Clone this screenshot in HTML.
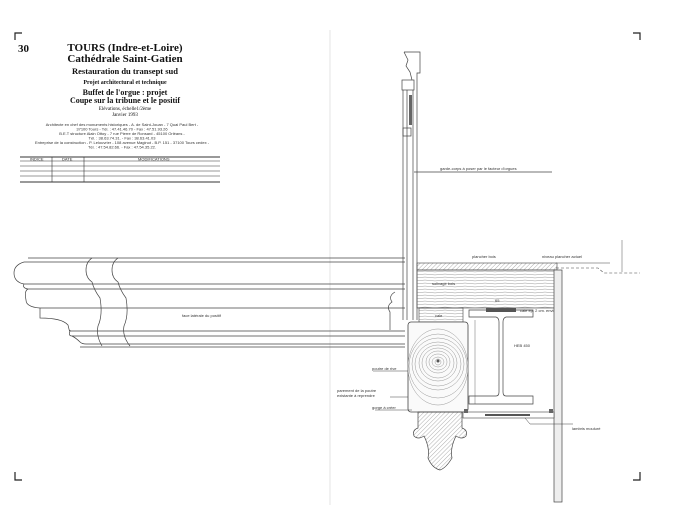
<!DOCTYPE html>
<html><head><meta charset="utf-8"><style>
html,body{margin:0;padding:0;background:#fff;}
svg{display:block;}
text{font-family:"Liberation Serif",serif;fill:#111;}
.s{font-family:"Liberation Sans",sans-serif;font-size:4px;fill:#333;}
</style></head><body>
<svg width="679" height="512" viewBox="0 0 679 512" xmlns="http://www.w3.org/2000/svg">
<defs>
<pattern id="h" width="3" height="3" patternUnits="userSpaceOnUse" patternTransform="rotate(45)"><line x1="0" y1="0" x2="0" y2="3" stroke="#777" stroke-width="0.6"/></pattern>
<pattern id="g" width="20" height="3" patternUnits="userSpaceOnUse"><path d="M0 1.5 Q5 0.6 10 1.5 T20 1.5" stroke="#999" stroke-width="0.5" fill="none"/></pattern>
</defs>
<rect width="679" height="512" fill="#fff"/>
<g stroke="#222" stroke-width="1.2" fill="none">
<path d="M15 40 V33 H22"/><path d="M633 33 H640 V40"/><path d="M15 472 V480 H22"/><path d="M640 472 V480 H633"/>
</g>
<line x1="330" y1="30" x2="330" y2="505" stroke="#ddd" stroke-width="0.8"/>
<text x="18" y="52" font-size="11" font-weight="bold">30</text>
<g text-anchor="middle" font-weight="bold">
<text x="125" y="51" font-size="11">TOURS (Indre-et-Loire)</text>
<text x="125" y="62" font-size="11">Cathédrale Saint-Gatien</text>
<text x="125" y="74" font-size="8.5">Restauration du transept sud</text>
<text x="125" y="84" font-size="6">Projet architectural et technique</text>
<text x="125" y="95" font-size="8">Buffet de l'orgue : projet</text>
<text x="125" y="103" font-size="8">Coupe sur la tribune et le positif</text>
<text x="125" y="110" font-size="5" font-weight="normal">Elévations, échelle1/2ème</text>
<text x="125" y="116" font-size="5" font-weight="normal">Janvier 1993</text>
</g>
<g class="s" text-anchor="middle" font-size="3.2">
<text x="122" y="126" class="s">Architecte en chef des monuments historiques - A. de Saint-Jouan - 7 Quai Paul Bert -</text>
<text x="122" y="130.5" class="s">37100 Tours - Tél. : 47.41.46.70 - Fax : 47.51.93.26</text>
<text x="122" y="135" class="s">B.E.T structure Alain Ottoy - 7 rue Pierre de Ronsard - 45100 Orléans -</text>
<text x="122" y="139.5" class="s">Tél. : 38.63.74.31. - Fax : 38.63.41.03</text>
<text x="122" y="144" class="s">Entreprise de la construction - P. Lelouvrier - 108 avenue Maginot - B.P. 151 - 37100 Tours cedex -</text>
<text x="122" y="148.5" class="s">Tél. : 47.54.82.66. - Fax : 47.54.35.22.</text>
</g>
<g stroke="#333" stroke-width="0.6">
<line x1="20" y1="157" x2="220" y2="157" stroke-width="1"/><line x1="20" y1="161" x2="220" y2="161"/>
<line x1="20" y1="166" x2="220" y2="166"/><line x1="20" y1="171" x2="220" y2="171"/>
<line x1="20" y1="176" x2="220" y2="176"/><line x1="20" y1="182" x2="220" y2="182" stroke-width="1"/>
<line x1="52" y1="157" x2="52" y2="182"/><line x1="84" y1="157" x2="84" y2="182"/>
</g>
<text x="30" y="160.3" class="s" font-size="3">INDICE</text><text x="62" y="160.3" class="s" font-size="3">DATE</text><text x="138" y="160.3" class="s" font-size="3">MODIFICATIONS</text>
<g stroke="#444" stroke-width="0.7" fill="none">
<path d="M28 258 H405"/><path d="M24 262 H405"/>
<path d="M24 262 Q14 265 14 273 Q14 282 24 284 H405"/>
<path d="M24 284 Q22 288 28 289 H405"/>
<path d="M28 289 Q24 291 26 300 Q26 307 40 308 H405"/>
<path d="M40 308 V318 Q62 318 68 325 Q70 334 70 330 V331 H405"/>
<path d="M70 331 Q68 336 72 336 H405"/>
<path d="M72 336 Q76 338 80 342 Q82 344 86 344 H405"/>
<path d="M80 347 H405"/>
<path d="M92 258 Q86 262 86 270 Q86 278 92 282 Q94 290 100 298 Q103 315 98 326 Q96 336 102 346"/>
<path d="M118 258 Q112 262 112 270 Q112 278 118 282 Q120 290 126 298 Q129 315 124 326 Q122 336 130 346"/>
<path d="M395 292 Q388 296 392 302 Q386 306 390 312 V330"/>
</g>
<text x="182" y="317" class="s">face latérale du positif</text>
<g stroke="#444" stroke-width="0.7" fill="none">
<path d="M404 52 H420 V73 H417 V320"/>
<path d="M404 52 L408 60 L406 66 L410 72 L412 80"/>
<rect x="402" y="80" width="12" height="10"/>
<line x1="403" y1="90" x2="403" y2="320"/><line x1="407" y1="90" x2="407" y2="320"/><line x1="413" y1="90" x2="413" y2="320"/>
<rect x="403" y="128" width="8" height="8"/>
<line x1="414" y1="172" x2="552" y2="172"/>
</g>
<rect x="409" y="95" width="3" height="30" fill="#666"/>
<text x="440" y="170" class="s">garde-corps à poser par le facteur d'orgues</text>
<rect x="417" y="263" width="140" height="7" fill="url(#h)" stroke="#444" stroke-width="0.6"/>
<rect x="417" y="270" width="139" height="38" fill="url(#g)" stroke="#444" stroke-width="0.6"/>
<line x1="556" y1="263" x2="610" y2="263" stroke="#444" stroke-width="0.6"/>
<path d="M556 268 H598 L604 273 H640" stroke="#444" stroke-width="0.6" fill="none" stroke-dasharray="3 2"/>
<line x1="622" y1="240" x2="622" y2="272" stroke="#555" stroke-width="0.5"/>
<text x="472" y="258" class="s">plancher bois</text>
<text x="542" y="258" class="s">niveau plancher actuel</text>
<text x="432" y="285" class="s">solivage bois</text>
<text x="495" y="302" class="s">65</text>
<rect x="419" y="308" width="44" height="14" fill="url(#g)" stroke="#444" stroke-width="0.6"/>
<text x="435" y="317" class="s">cale</text>
<rect x="408" y="322" width="60" height="90" rx="3" fill="#fafafa" stroke="#444" stroke-width="0.8"/>
<g stroke="#999" fill="none" stroke-width="0.5">
<ellipse cx="438" cy="362" rx="3" ry="3"/><ellipse cx="438" cy="362" rx="6" ry="5"/><ellipse cx="438" cy="362" rx="9" ry="8"/><ellipse cx="438" cy="362" rx="12" ry="11"/><ellipse cx="438" cy="363" rx="16" ry="15"/><ellipse cx="438" cy="363" rx="19" ry="18"/><ellipse cx="438" cy="364" rx="23" ry="22"/><ellipse cx="438" cy="364" rx="26" ry="26"/><ellipse cx="438" cy="366" rx="29" ry="32"/><ellipse cx="438" cy="367" rx="30" ry="38"/>
</g>
<circle cx="438" cy="361" r="1.5" fill="#555"/>
<path d="M418 412 H462 V428 Q468 430 466 436 Q462 440 456 436 Q450 448 452 458 Q446 468 440 470 Q432 468 428 458 Q430 448 424 436 Q418 440 414 436 Q412 430 418 428 Z" fill="url(#h)" stroke="#444" stroke-width="0.7"/>
<g stroke="#444" stroke-width="0.7" fill="none">
<path d="M469 310 H533 V317 H506 Q503 318 503 322 V392 Q503 396 506 396 H533 V404 H469 V396 H496 Q499 396 499 392 V322 Q499 318 496 317 H469 Z"/>
<line x1="475" y1="320" x2="475" y2="404" stroke-width="0.4"/>
</g>
<rect x="486" y="308" width="30" height="4" fill="#555"/>
<text x="520" y="312" class="s">cale ép. 2 cm. environ</text>
<text x="514" y="347" class="s">HEB 450</text>
<rect x="554" y="270" width="8" height="232" fill="#eee" stroke="#444" stroke-width="0.7"/>
<rect x="463" y="412" width="91" height="6" fill="#fff" stroke="#444" stroke-width="0.6"/>
<rect x="485" y="414" width="45" height="2" fill="#555"/>
<rect x="464" y="409" width="4" height="4" fill="#666"/><rect x="549" y="409" width="4" height="4" fill="#666"/>
<path d="M525 418 L530 424 H573" stroke="#444" stroke-width="0.5" fill="none"/>
<text x="572" y="430" class="s">lambris mouluré</text>
<g stroke="#444" stroke-width="0.5">
<line x1="373" y1="371" x2="408" y2="371"/><line x1="390" y1="397" x2="408" y2="397"/><line x1="375" y1="410" x2="412" y2="410"/>
</g>
<text x="372" y="370" class="s">poutre de rive</text>
<text x="337" y="392" class="s">parement de la poutre</text>
<text x="337" y="397" class="s">existante à reprendre</text>
<text x="372" y="409" class="s">gorge à créer</text>
</svg>
</body></html>
